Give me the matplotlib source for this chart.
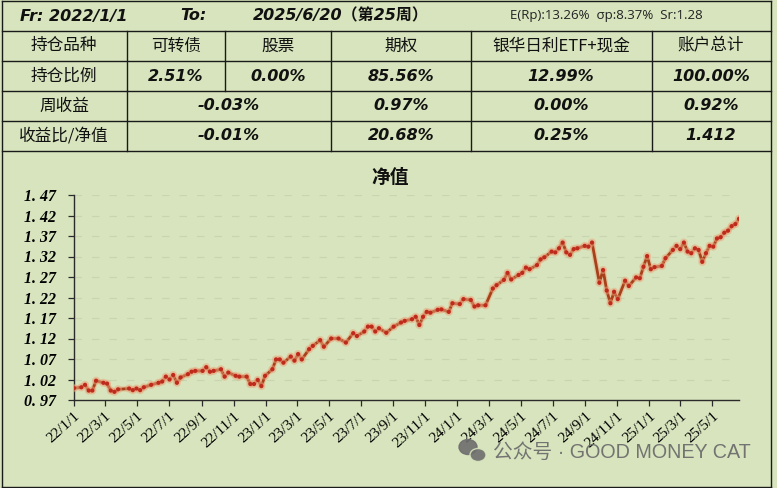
import numpy as np
import pandas as pd
import matplotlib
matplotlib.use("Agg")
import matplotlib.pyplot as plt
import matplotlib.patheffects as pe
from matplotlib.lines import Line2D
from matplotlib.patches import Ellipse

# ---- data ----
start_date = "2022-01-01"
# week offsets from start_date of the plotted points
weeks = [0, 2, 3, 4, 5, 6, 8, 9, 10, 11,
         12, 15, 16, 17, 18, 19, 21, 23, 24, 25,
         26, 27, 28, 29, 31, 32, 33, 35, 36, 37,
         38, 40, 41, 42, 44, 45, 47, 48, 49, 50,
         51, 52, 54, 55, 56, 57, 59, 60, 61,
         62, 64, 65, 67, 68, 70, 72, 74, 76, 77,
         79, 80, 81, 82, 83, 85, 87, 89, 90, 92,
         93, 94, 95, 96, 97, 99, 100, 102, 103, 105,
         106, 108, 109, 110, 112, 114, 115, 117, 118, 119,
         121, 122, 123, 124, 126, 127, 128, 130, 131, 132,
         133, 134, 135, 136, 137, 139, 140, 141,
         143, 144, 145, 146, 147, 148, 150, 151, 153, 154,
         155, 156, 157, 158, 160, 161, 163, 164, 165, 166,
         167, 168, 169, 170, 171, 172, 173, 174, 175, 176,
         177, 178, 179, 180, 181]
nav = [0.999, 1.001, 1.007, 0.993, 0.993, 1.017, 1.012, 1.010, 0.993, 0.990,
       0.996, 0.998, 0.994, 0.998, 0.994, 1.001, 1.007, 1.012, 1.015, 1.027,
       1.020, 1.031, 1.012, 1.025, 1.033, 1.039, 1.041, 1.041, 1.050, 1.039,
       1.041, 1.045, 1.027, 1.037, 1.029, 1.027, 1.027, 1.009, 1.009, 1.019,
       1.004, 1.029, 1.045, 1.069, 1.069, 1.061, 1.076, 1.066, 1.082,
       1.069, 1.094, 1.102, 1.116, 1.100, 1.120, 1.120, 1.110, 1.133, 1.126,
       1.137, 1.149, 1.149, 1.137, 1.145, 1.134, 1.149, 1.159, 1.163, 1.167,
       1.173, 1.153, 1.173, 1.185, 1.183, 1.190, 1.191, 1.185, 1.206, 1.204,
       1.216, 1.214, 1.198, 1.201, 1.201, 1.242, 1.250, 1.263, 1.280, 1.264,
       1.275, 1.280, 1.293, 1.289, 1.299, 1.313, 1.318, 1.332, 1.330, 1.340,
       1.354, 1.330, 1.324, 1.338, 1.340, 1.346, 1.344, 1.354,
       1.256, 1.287, 1.237, 1.206, 1.234, 1.216, 1.261, 1.248, 1.269, 1.267,
       1.295, 1.321, 1.289, 1.294, 1.297, 1.316, 1.336, 1.346, 1.338, 1.354,
       1.332, 1.328, 1.340, 1.336, 1.307, 1.328, 1.346, 1.344, 1.364, 1.367,
       1.378, 1.383, 1.394, 1.399, 1.412]

y_ticks = [0.97, 1.02, 1.07, 1.12, 1.17, 1.22, 1.27, 1.32, 1.37, 1.42, 1.47]

header_left = "Fr: 2022/1/1"
header_to = "To:"
header_end = "2025/6/20（第25周）"
header_stats = "E(Rp):13.26%  σp:8.37%  Sr:1.28"

row_names = ["持仓品种", "持仓比例", "周收益", "收益比/净值"]
holdings = ["可转债", "股票", "期权", "银华日利ETF+现金", "账户总计"]
weights = ["2.51%", "0.00%", "85.56%", "12.99%", "100.00%"]
week_ret = ["-0.03%", "0.97%", "0.00%", "0.92%"]
ret_ratio = ["-0.01%", "20.68%", "0.25%", "1.412"]

W, H = 777, 488
BG = "#D7E4BD"
CJK = ["Noto Sans CJK SC", "DejaVu Sans"]
LATIN_CJK = ["DejaVu Sans", "Noto Sans CJK SC"]

fig = plt.figure(figsize=(W / 100, H / 100), dpi=100, facecolor=BG)


def fx(x):
    return x / W


def fy(y):
    return 1 - y / H


def hline(x0, x1, y, lw=1.0):
    fig.add_artist(Line2D([fx(x0), fx(x1)], [fy(y), fy(y)], color="#1a1a1a", lw=lw))


def vline(x, y0, y1, lw=1.0):
    fig.add_artist(Line2D([fx(x), fx(x)], [fy(y0), fy(y1)], color="#1a1a1a", lw=lw))


def cell_text(x, y, s, **kw):
    fig.text(fx(x), fy(y), s, ha="center", va="center", **kw)


# ---- table grid ----
L, R = 2, 771
rows_y = [1, 31, 61, 91, 121, 151]
for y in rows_y:
    hline(L, R, y)
hline(L, R, 487)
vline(L, 1, 487)
vline(R, 1, 487)
for x in [127, 225, 331, 471, 652]:
    vline(x, 31, 91)
for x in [127, 331, 471, 652]:
    vline(x, 91, 151)

# header row
num_font = dict(family="DejaVu Sans", fontweight="bold", fontstyle="italic", fontsize=11.5, color="#111111")
fig.text(fx(20), fy(16), header_left, ha="left", va="center", **num_font)
fig.text(fx(180), fy(16), header_to, ha="left", va="center", **num_font)
fig.text(fx(253), fy(16), header_end, ha="left", va="center", family=LATIN_CJK,
         fontweight="bold", fontstyle="italic", fontsize=11.5, color="#111111")
fig.text(fx(510), fy(16), header_stats, ha="left", va="center", family="Open Sans",
         fontsize=9.5, color="#222222")

# table body
col_centers = [176, 278, 401, 561, 711]
merged_centers = [229, 401, 561, 711]
label_font = dict(family=CJK, fontsize=12, color="#111111")
for name, y in zip(row_names, [46, 76, 106, 136]):
    cell_text(64, y, name, **label_font)
for s, x in zip(holdings, col_centers):
    cell_text(x, 46, s, **label_font)
for s, x in zip(weights, col_centers):
    cell_text(x, 76, s, **num_font)
for s, x in zip(week_ret, merged_centers):
    cell_text(x, 106, s, **num_font)
for s, x in zip(ret_ratio, merged_centers):
    cell_text(x, 136, s, **num_font)

# ---- NAV chart ----
dates = pd.Timestamp(start_date) + pd.to_timedelta(np.array(weeks) * 7, unit="D")
ax = fig.add_axes([fx(74), fy(400), (739 - 74) / W, (400 - 195) / H])
ax.patch.set_alpha(0)

ax.plot(dates, nav, color="#A8401A", lw=2.0, marker="o", ms=2.0,
        mfc="#BE2A1C", mec="#BE2A1C", zorder=3,
        path_effects=[pe.Stroke(linewidth=3.8, foreground="#E9A37A", alpha=0.5), pe.Normal()])

ax.set_ylim(0.97, 1.47)
ax.set_xlim(dates[0], dates[-1])
ax.set_yticks(y_ticks)
ax.set_yticklabels([f"{v:.2f}".replace(".", ". ") for v in y_ticks],
                   family="Liberation Serif", fontweight="bold", fontstyle="italic", fontsize=11.5)
for v in y_ticks[1:]:
    ax.axhline(v, color="#C9D5B0", lw=0.9, ls=(0, (6, 8)), zorder=1)

xt = pd.date_range("2022-01-01", "2025-05-01", freq="2MS")
ax.set_xticks(xt)
ax.set_xticklabels([f"{d.year % 100}/{d.month}/{d.day}" for d in xt],
                   rotation=42, ha="right", va="top", rotation_mode="anchor",
                   family="Liberation Serif", fontsize=11)

for side in ["top", "right"]:
    ax.spines[side].set_visible(False)
for side in ["left", "bottom"]:
    ax.spines[side].set_color("#2b2b2b")
    ax.spines[side].set_linewidth(1.0)
ax.tick_params(axis="both", direction="out", length=4, width=0.9, color="#2b2b2b", pad=3)
ax.tick_params(axis="y", pad=9)

fig.text(fx(390), fy(177), "净值", ha="center", va="center", family=CJK,
         fontsize=13.5, fontweight="bold", color="#111111")

# ---- watermark ----
fig.add_artist(Ellipse((fx(468), fy(447)), 18 / W, 15 / H, color="#6E6E6E", alpha=0.9))
fig.add_artist(Ellipse((fx(478), fy(455)), 16 / W, 13 / H, color="#6E6E6E", alpha=0.9,
                       ec=BG, lw=1))
fig.text(fx(493), fy(452), "公众号 · GOOD MONEY CAT", ha="left", va="center",
         family=["Liberation Sans", "Noto Sans CJK SC"], fontsize=14.2, color="#6E6E6E", alpha=0.95)

fig.savefig("out.png", dpi=100, facecolor=BG)
